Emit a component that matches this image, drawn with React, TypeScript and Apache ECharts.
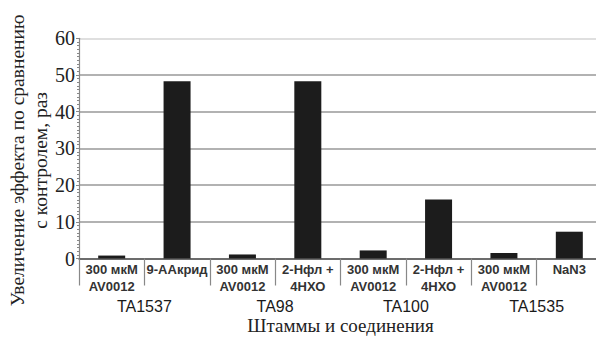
import React, { useEffect, useRef } from "react";
import * as echarts from "echarts";

const categories = [
  "300 мкМ\nAV0012",
  "9-ААкрид",
  "300 мкМ\nAV0012",
  "2-Нфл +\n4НХО",
  "300 мкМ\nAV0012",
  "2-Нфл +\n4НХО",
  "300 мкМ\nAV0012",
  "NaN3",
];
const values = [0.8, 48.3, 1.1, 48.3, 2.2, 16.1, 1.5, 7.3];
const groups = ["TA1537", "TA98", "TA100", "TA1535"];
const yTitle = "Увеличение эффекта по сравнению\nс контролем, раз";
const xTitle = "Штаммы и соединения";

export default function App() {
  const ref = useRef<HTMLDivElement>(null);
  useEffect(() => {
    if (!ref.current) return;
    const chart = echarts.init(ref.current, null, { renderer: "svg" });
    const serif = "'Liberation Serif', 'DejaVu Serif', serif";
    const sans = "'Liberation Sans', Arial, sans-serif";
    chart.setOption({
      animation: false,
      backgroundColor: "#ffffff",
      grid: {
        left: 79,
        top: 38.3,
        bottom: 78.5,
        right: -6,
        containLabel: false,
        outerBoundsMode: "none",
      },
      xAxis: [
        {
          type: "category",
          data: categories,
          position: "bottom",
          axisLine: { show: true, lineStyle: { color: "#555", width: 1.5 } },
          axisTick: {
            show: true,
            interval: 0,
            alignWithLabel: false,
            length: 27,
            lineStyle: { color: "#888", width: 1.2 },
          },
          axisLabel: {
            interval: 0,
            margin: 3,
            fontFamily: sans,
            fontWeight: "bold",
            fontSize: 13,
            lineHeight: 16.5,
            color: "#333",
          },
        },
        {
          type: "category",
          data: groups,
          position: "bottom",
          gridIndex: 0,
          axisLine: { show: false },
          axisTick: { show: false },
          axisLabel: {
            interval: 0,
            margin: 40,
            fontFamily: sans,
            fontSize: 16,
            color: "#1a1a1a",
          },
          name: xTitle,
          nameLocation: "middle",
          nameGap: 57,
          nameMoveOverlap: false,
          nameTextStyle: { fontFamily: serif, fontSize: 19, color: "#222" },
        },
      ],
      yAxis: {
        type: "value",
        min: 0,
        max: 60,
        interval: 10,
        name: yTitle,
        nameLocation: "middle",
        nameRotate: 90,
        nameGap: 27,
        nameMoveOverlap: false,
        nameTextStyle: {
          fontFamily: serif,
          fontSize: 19.5,
          lineHeight: 23,
          color: "#222",
          padding: [0, 24, 0, 0],
        },
        axisLine: { show: true, lineStyle: { color: "#888", width: 1.2 } },
        axisTick: { show: true, length: 3, lineStyle: { color: "#888" } },
        minorTick: { show: true, splitNumber: 10, length: 2, lineStyle: { color: "#888" } },
        axisLabel: { margin: 4, fontFamily: serif, fontSize: 20, color: "#222" },
        splitLine: {
          show: true,
          lineStyle: {
            color: ["#999", "#999", "#999", "#999", "#999", "#999", "#d4d4d4"],
            width: 1.5,
          },
        },
      },
      series: [
        {
          type: "bar",
          xAxisIndex: 0,
          data: values,
          barWidth: 27,
          itemStyle: { color: "#1c1c1c" },
        },
      ],
    });
    return () => chart.dispose();
  }, []);
  return (
    <div
      ref={ref}
      style={{ position: "absolute", left: 0, top: 0, width: 596, height: 337, overflow: "hidden" }}
    />
  );
}
